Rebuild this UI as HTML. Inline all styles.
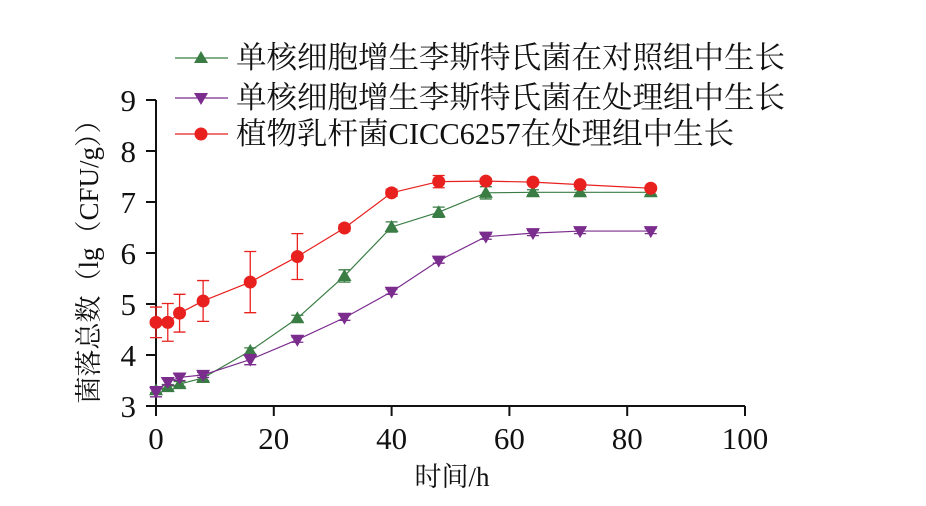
<!DOCTYPE html>
<html><head><meta charset="utf-8"><style>
body{margin:0;background:#fff;}
svg text{font-family:"Liberation Serif","Noto Serif CJK SC",serif;fill:#111;}
</style></head><body>
<svg id="chart" width="926" height="501" viewBox="0 0 926 501">
<g id="axes"></g><g id="series"></g><g id="legend"></g>
<text x="452" y="486" font-size="27" text-anchor="middle">时间/h</text>
<text transform="translate(98,255) rotate(-90)" font-size="27" text-anchor="middle">菌落总数（lg（CFU/g））</text>
</svg>
<script>
const times=[0,2,4,8,16,24,32,40,48,56,64,72,84];
const controlVals=[3.31,3.37,3.43,3.55,4.08,4.72,5.55,6.51,6.80,7.18,7.19,7.19,7.19];
const controlErr=[0.05,0.05,0.05,0.05,0.06,0.06,0.12,0.1,0.1,0.12,0.05,0.05,0.05];
const treatedVals=[3.28,3.47,3.56,3.61,3.91,4.30,4.73,5.24,5.85,6.32,6.39,6.43,6.43];
const treatedErr=[0.1,0.06,0.06,0.05,0.1,0.05,0.05,0.05,0.05,0.05,0.05,0.05,0.05];
const lactoVals=[4.64,4.64,4.82,5.06,5.43,5.93,6.49,7.18,7.40,7.41,7.39,7.34,7.27];
const lactoErr=[0.3,0.37,0.37,0.4,0.6,0.45,0.06,0.07,0.12,0.05,0.03,0.03,0.04];
const xTicks=[0,20,40,60,80,100];
const yTicks=[3,4,5,6,7,8,9];
const legendLabels=["单核细胞增生李斯特氏菌在对照组中生长","单核细胞增生李斯特氏菌在处理组中生长","植物乳杆菌CICC6257在处理组中生长"];
const NS="http://www.w3.org/2000/svg";
const X=v=>156+v*5.89;
const Y=v=>406-(v-3)*51;
function mk(tag,attrs,parent){const e=document.createElementNS(NS,tag);for(const k in attrs)e.setAttribute(k,attrs[k]);parent.appendChild(e);return e;}
const axes=document.getElementById('axes');
let xa=mk('line',{x1:X(0),y1:Y(3),x2:X(100),y2:Y(3),stroke:'#111','stroke-width':2},axes);


let ya=mk('line',{x1:X(0),y1:Y(3),x2:X(0),y2:Y(9),stroke:'#111','stroke-width':2},axes);


xTicks.forEach(t=>{mk('line',{x1:X(t),y1:Y(3),x2:X(t),y2:Y(3)+10,stroke:'#111','stroke-width':2},axes);
const tx=mk('text',{x:X(t),y:449,'font-size':31,'text-anchor':'middle'},axes);tx.textContent=t;

});
yTicks.forEach(t=>{mk('line',{x1:X(0)-10,y1:Y(t),x2:X(0),y2:Y(t),stroke:'#111','stroke-width':2},axes);
const tx=mk('text',{x:136,y:Y(t)+11,'font-size':31,'text-anchor':'end'},axes);tx.textContent=t;

});
const ser=document.getElementById('series');
function marker(g,type,x,y,c){
 if(type==='up')return mk('path',{d:`M${x},${y-7}L${x+7},${y+5}L${x-7},${y+5}Z`,fill:c},g);
 if(type==='down')return mk('path',{d:`M${x},${y+7}L${x+7},${y-5}L${x-7},${y-5}Z`,fill:c},g);
 return mk('circle',{cx:x,cy:y,r:6.5,fill:c},g);
}
function drawSeries(name,vals,errs,color,type){
 const g=mk('g',{},ser);
 
 
 mk('polyline',{points:times.map((t,i)=>X(t)+','+Y(vals[i])).join(' '),fill:'none',stroke:color,'stroke-width':1.2},g);
 times.forEach((t,i)=>{const x=X(t),y1=Y(vals[i]+errs[i]),y2=Y(vals[i]-errs[i]);
  mk('path',{d:`M${x},${y1}V${y2}M${x-6},${y1}H${x+6}M${x-6},${y2}H${x+6}`,stroke:color,'stroke-width':1.3,fill:'none'},g);
  const m=marker(g,type,x,Y(vals[i]),color);
  
  });
}
drawSeries('control-series',controlVals,controlErr,'#3a7d44','up');
drawSeries('treated-series',treatedVals,treatedErr,'#7b2d8e','down');
drawSeries('lacto-series',lactoVals,lactoErr,'#e8211f','circle');
const leg=document.getElementById('legend');
const cols=['#3a7d44','#7b2d8e','#e8211f'],types=['up','down','circle'],ly=[57,97,133];
legendLabels.forEach((l,i)=>{const g=mk('g',{},leg);
 
 
 mk('line',{x1:175,y1:ly[i]+1,x2:228,y2:ly[i]+1,stroke:cols[i],'stroke-width':1.2},g);
 marker(g,types[i],201,ly[i]+1,cols[i]);
 const tx=mk('text',{x:236,y:ly[i]+11,'font-size':30.5},g);tx.textContent=l;});
</script>
</body></html>
